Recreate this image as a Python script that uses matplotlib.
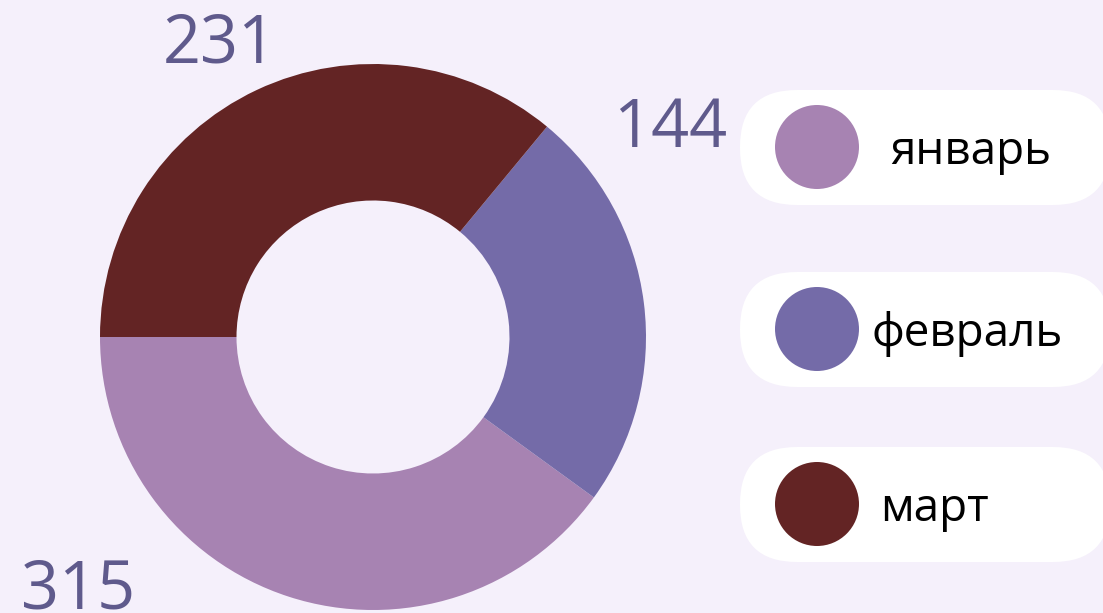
"""Donut chart with pill legend."""

import matplotlib
matplotlib.use('Agg')
import matplotlib.pyplot as plt
from matplotlib.patches import FancyBboxPatch, Circle

# Data.
months = ['январь', 'февраль', 'март']
labels = [315, 144, 231]          # numbers printed on the chart
shares = [40, 24, 36]             # slice sizes (%)
colors = ['#a783b2', '#746ba8', '#632424']

# Styles.
BG = '#f5f0fb'
NUM_COLOR = '#5f5a8c'
W_PX, H_PX = 1103, 613
plt.rcParams['font.family'] = ['Open Sans', 'DejaVu Sans']

fig = plt.figure(figsize=(W_PX / 100, H_PX / 100), dpi=100, facecolor=BG)

# Overlay in pixel coordinates for the legend.
ov = fig.add_axes([0, 0, 1, 1])
ov.set_xlim(0, W_PX)
ov.set_ylim(H_PX, 0)
ov.axis('off')

pill_y = [90, 272, 447]
text_x = [890, 871, 880]
for i, (m, c) in enumerate(zip(months, colors)):
    y0 = pill_y[i]
    ov.add_patch(FancyBboxPatch((740, y0), 370, 115,
                                boxstyle='round,pad=0,rounding_size=57',
                                facecolor='white', edgecolor='none'))
    ov.add_patch(Circle((817, y0 + 57), 42, facecolor=c, edgecolor='none'))
    ov.text(text_x[i], y0 + 62, m, fontsize=33, color='black',
            ha='left', va='center')

# Donut: centre (373, 337) px, radius 273 px.
cx, cy, r = 373, 337, 273
ax = fig.add_axes([(cx - r) / W_PX, (H_PX - cy - r) / H_PX,
                   2 * r / W_PX, 2 * r / H_PX])
ax.set_facecolor('none')
ax.pie(shares, colors=colors, startangle=180, counterclock=True,
       radius=1, wedgeprops=dict(width=0.5, edgecolor='none'))
ax.set_xlim(-1, 1)
ax.set_ylim(-1, 1)
ax.set_aspect('equal')

# Value labels (data coordinates of the donut axes).
label_pos = [(-1.08, -0.93), (1.09, 0.76), (-0.56, 1.07)]
for v, (x, y) in zip(labels, label_pos):
    ax.text(x, y, str(v), fontsize=48, color=NUM_COLOR,
            ha='center', va='center', clip_on=False)

fig.savefig('out.png', dpi=100, facecolor=BG)
